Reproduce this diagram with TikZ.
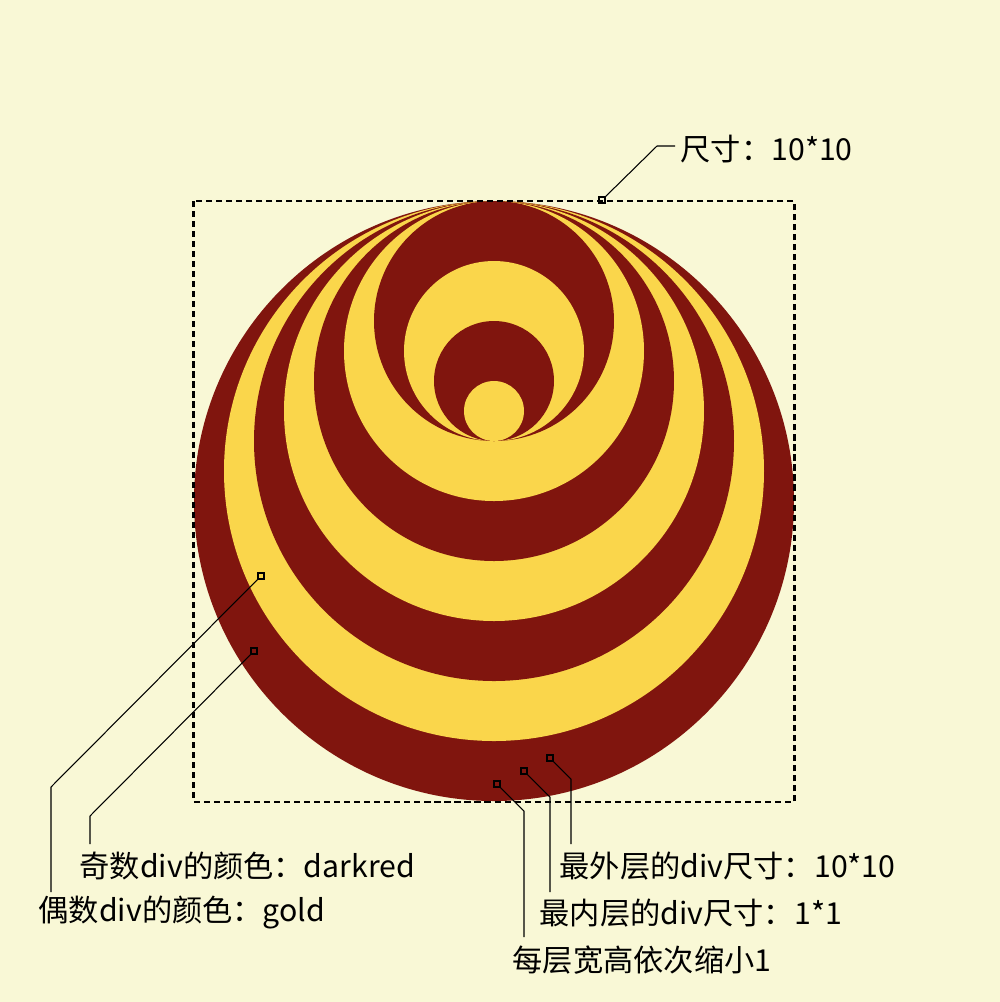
\documentclass[tikz,border=0pt]{standalone}
\usepackage{fontspec}
\setmainfont{Noto Sans CJK SC}
\usepackage{tikz}
\usepackage{xcolor}
\definecolor{paper}{RGB}{249,248,214}
\definecolor{ringred}{RGB}{128,21,14}
\definecolor{ringgold}{RGB}{250,214,75}
\tikzset{
  pin/.style={draw=black, line width=0.4pt, minimum size=1.6pt, inner sep=0pt},
  lead/.style={draw=black, line width=0.3pt},
  note/.style={font=\fontsize{8.6}{10}\selectfont, inner sep=0pt, anchor=west}
}
\begin{document}
\begin{tikzpicture}[x=0.01cm,y=-0.01cm]
\fill[paper] (0,0) rectangle (1000,1002);
\useasboundingbox (0,0) rectangle (1000,1002);
% rings, top aligned from 10 down to 4
\fill[ringred] (494,501) circle (300);
\fill[ringgold] (494,471) circle (270);
\fill[ringred] (494,441) circle (240);
\fill[ringgold] (494,411) circle (210);
\fill[ringred] (494,381) circle (180);
\fill[ringgold] (494,351) circle (150);
\fill[ringred] (494,321) circle (120);
% rings, bottom aligned from 3 down to 1
\fill[ringgold] (494,351) circle (90);
\fill[ringred] (494,381) circle (60);
\fill[ringgold] (494,411) circle (30);
% box of the outer div
\draw[black, line width=0.65pt, dash pattern=on 1.75pt off 1.1pt] (193.5,201) rectangle (794.5,802);
% notes
\node[note] (size) at (680,149) {尺寸：10*10};
\node[note] (odd) at (79,866) {奇数div的颜色：darkred};
\node[note] (even) at (38,913) {偶数div的颜色：gold};
\node[note] (outer) at (559,866) {最外层的div尺寸：10*10};
\node[note] (inner) at (539,913) {最内层的div尺寸：1*1};
\node[note] (step1) at (512,960) {每层宽高依次缩小1};
% pins
\node[pin] (pSize) at (602,200) {};
\node[pin] (pOdd) at (254,651) {};
\node[pin] (pEven) at (261,576) {};
\node[pin] (pOuter) at (550,758) {};
\node[pin] (pInner) at (524,771) {};
\node[pin] (pStep) at (497,784) {};
% bends and ends
\coordinate (kSize) at (657,146);
\coordinate (eSize) at (675,146);
\coordinate (kOdd) at (90,816);
\coordinate (eOdd) at (90,844);
\coordinate (kEven) at (51,787);
\coordinate (eEven) at (51,892);
\coordinate (kOuter) at (571,779);
\coordinate (eOuter) at (571,844);
\coordinate (kInner) at (550,797);
\coordinate (eInner) at (550,892);
\coordinate (kStep) at (524,811);
\coordinate (eStep) at (524,937);
\draw[lead] (pSize) -- (kSize) -- (eSize);
\draw[lead] (pOdd) -- (kOdd) -- (eOdd);
\draw[lead] (pEven) -- (kEven) -- (eEven);
\draw[lead] (pOuter) -- (kOuter) -- (eOuter);
\draw[lead] (pInner) -- (kInner) -- (eInner);
\draw[lead] (pStep) -- (kStep) -- (eStep);
\end{tikzpicture}
\end{document}
